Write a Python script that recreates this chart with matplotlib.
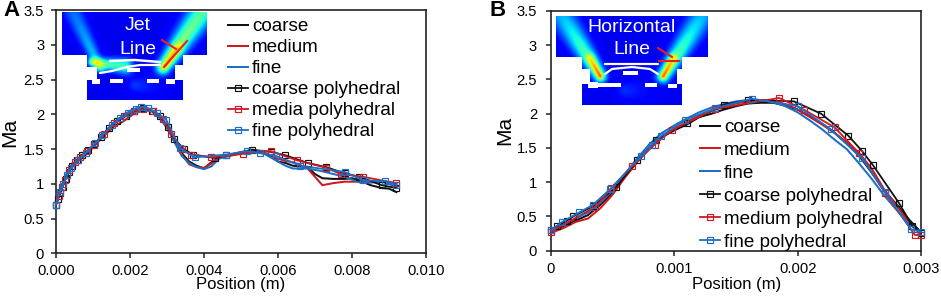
import numpy as np
import matplotlib
matplotlib.use("Agg")
import matplotlib.pyplot as plt
from matplotlib.patches import Polygon, Rectangle

plt.rcParams['font.family'] = ['Liberation Sans', 'DejaVu Sans']

# ---------- Panel A data ----------
a_x = [0, .0001, .0002, .0003, .0004, .0006, .0008, .001, .0012, .0014, .0016, .0018, .002, .0022, .0024, .0026, .0028, .003, .0032, .0034, .0036, .0038, .004, .0042, .0044, .0047, .005, .0053, .0056, .0058, .006, .0062, .0064, .0066, .0068, .007, .0072, .0075, .0078, .008, .0082, .0085, .0088, .009, .0092]
a_coarse = [.7, .87, 1.0, 1.12, 1.22, 1.33, 1.42, 1.53, 1.65, 1.78, 1.88, 1.95, 2.01, 2.06, 2.08, 2.04, 1.95, 1.82, 1.63, 1.44, 1.32, 1.26, 1.22, 1.31, 1.38, 1.41, 1.44, 1.49, 1.45, 1.4, 1.32, 1.3, 1.26, 1.25, 1.24, 1.14, 1.08, 1.07, 1.07, 1.08, 1.05, .98, .94, .93, .88]
a_medium = [.7, .88, 1.03, 1.15, 1.25, 1.35, 1.43, 1.52, 1.64, 1.74, 1.84, 1.89, 1.97, 2.04, 2.08, 2.05, 1.98, 1.84, 1.66, 1.42, 1.28, 1.24, 1.23, 1.29, 1.38, 1.4, 1.44, 1.47, 1.44, 1.4, 1.36, 1.33, 1.31, 1.27, 1.22, 1.1, .98, 1.01, 1.03, 1.03, 1.03, 1.02, 1.03, 1.02, 1.0]
a_fine = [.72, .9, 1.04, 1.16, 1.26, 1.36, 1.44, 1.54, 1.66, 1.79, 1.9, 1.98, 2.05, 2.09, 2.1, 2.05, 1.95, 1.8, 1.6, 1.4, 1.3, 1.24, 1.21, 1.25, 1.36, 1.41, 1.45, 1.48, 1.44, 1.38, 1.32, 1.26, 1.22, 1.22, 1.22, 1.2, 1.18, 1.14, 1.1, 1.06, 1.02, 1.02, 1.03, 1.0, .95]
a_cp_x = [0, .00006, .00012, .00018, .00026, .00034, .00044, .00056, .0007, .00086, .00104, .00122, .00142, .00164, .00188, .00212, .00236, .0026, .00282, .00302, .0032, .00345, .0037, .0043, .0046, .0053, .0058, .0062, .0068, .0073, .0078, .0082, .0088, .0092]
a_cp = [.7, .78, .87, .96, 1.07, 1.17, 1.26, 1.34, 1.41, 1.48, 1.57, 1.68, 1.8, 1.9, 1.98, 2.05, 2.09, 2.05, 1.97, 1.82, 1.65, 1.5, 1.42, 1.37, 1.41, 1.49, 1.46, 1.41, 1.3, 1.24, 1.15, 1.1, .98, .94]
a_mp_x = [0, .00008, .00016, .00024, .00036, .0005, .00066, .00084, .00102, .0013, .00158, .00184, .0021, .00235, .00262, .00288, .00312, .0034, .00365, .0042, .00505, .0058, .0065, .0073, .0077, .0083, .0092]
a_mp = [.7, .83, .95, 1.05, 1.2, 1.31, 1.39, 1.47, 1.56, 1.72, 1.88, 1.97, 2.05, 2.07, 2.05, 1.93, 1.72, 1.5, 1.42, 1.38, 1.43, 1.47, 1.34, 1.23, 1.14, 1.1, 1.01]
a_fp_x = [0, .0001, .0002, .0003, .0004, .0006, .0008, .00105, .00125, .00152, .00172, .00195, .00215, .0023, .00248, .00272, .00298, .00335, .00375, .0046, .00515, .0055, .00595, .0066, .0078, .0083, .0089, .0092]
a_fp = [.7, .88, 1.0, 1.13, 1.22, 1.34, 1.44, 1.58, 1.7, 1.85, 1.94, 2.02, 2.08, 2.1, 2.09, 2.02, 1.92, 1.51, 1.38, 1.42, 1.47, 1.44, 1.4, 1.26, 1.17, 1.05, 1.04, .98]

# ---------- Panel B data ----------
b_x = [0, .0001, .0002, .0003, .0004, .0005, .0006, .0007, .0008, .0009, .001, .0011, .0012, .0013, .0014, .0015, .0016, .0017, .0018, .0019, .002, .0021, .0022, .0023, .0024, .0025, .0026, .0027, .0028, .0029, .003]
b_coarse = [.28, .36, .44, .52, .67, .85, 1.08, 1.3, 1.5, 1.66, 1.76, 1.84, 1.95, 2.0, 2.06, 2.11, 2.15, 2.16, 2.16, 2.12, 2.06, 1.96, 1.85, 1.72, 1.56, 1.38, 1.14, .88, .68, .46, .27]
b_medium = [.26, .33, .42, .47, .62, .82, 1.07, 1.3, 1.5, 1.66, 1.78, 1.88, 1.97, 2.04, 2.1, 2.15, 2.18, 2.2, 2.19, 2.14, 2.06, 1.95, 1.84, 1.72, 1.58, 1.42, 1.2, .9, .66, .42, .24]
b_fine = [.3, .38, .47, .56, .7, .88, 1.12, 1.35, 1.56, 1.72, 1.83, 1.93, 2.02, 2.09, 2.14, 2.18, 2.2, 2.2, 2.17, 2.11, 2.02, 1.9, 1.77, 1.62, 1.48, 1.27, 1.05, .81, .6, .39, .27]
b_cp_x = [0, .00005, .00013, .00018, .00034, .00053, .0007, .00085, .0011, .0014, .0016, .00197, .00219, .00241, .00252, .00261, .00282, .00293, .003]
b_cp = [.3, .36, .44, .5, .65, .93, 1.32, 1.61, 1.86, 2.13, 2.2, 2.18, 2.0, 1.68, 1.46, 1.25, .7, .36, .26]
b_mp_x = [0, .00036, .00049, .00066, .00084, .00098, .00133, .00185, .00205, .0023, .0025, .00271, .00295, .003]
b_mp = [.28, .64, .91, 1.24, 1.55, 1.76, 2.07, 2.23, 2.06, 1.8, 1.42, .84, .23, .23]
b_fp_x = [0, .00009, .00023, .00034, .00048, .00073, .00082, .00089, .00109, .00133, .00163, .002, .00227, .00252, .00271, .00292, .003]
b_fp = [.3, .42, .56, .67, .9, 1.38, 1.55, 1.67, 1.91, 2.08, 2.22, 2.11, 1.77, 1.35, .86, .31, .28]

a_labels = ["coarse", "medium", "fine", "coarse polyhedral", "media polyhedral", "fine polyhedral"]
b_labels = ["coarse", "medium", "fine", "coarse polyhedral", "medium polyhedral", "fine polyhedral"]
y_ticks = [0, .5, 1, 1.5, 2, 2.5, 3, 3.5]
y_ticklabels = ["0", "0.5", "1", "1.5", "2", "2.5", "3", "3.5"]
a_xticks = [0, .002, .004, .006, .008, .01]
a_xticklabels = ["0.000", "0.002", "0.004", "0.006", "0.008", "0.010"]
b_xticks = [0, .001, .002, .003]
b_xticklabels = ["0", "0.001", "0.002", "0.003"]

BLACK, RED, BLUE = "#111111", "#d2171f", "#1c6fc4"
W, H = 941, 296
fig = plt.figure(figsize=(W / 100, H / 100), dpi=100)

def px_axes(l, t, r, b):
    return fig.add_axes([l / W, 1 - b / H, (r - l) / W, (b - t) / H])

def panel(ax, xlim, xt, xtl, smooth, poly, labels, pad_y, leg_xy, spacing):
    colors = [BLACK, RED, BLUE]
    handles = []
    xs, ys = smooth
    for y, c, lab in zip(ys, colors, labels[:3]):
        handles += ax.plot(xs, y, color=c, lw=1.45, label=lab, zorder=3)
    for (px, py), c, lab in zip(poly, colors, labels[3:]):
        handles += ax.plot(px, py, color=c, lw=1.3, marker="s", ms=4.4, mfc="none", mew=0.85,
                           label=lab, zorder=4, clip_on=False)
    ax.set_xlim(*xlim)
    ax.set_ylim(0, 3.5)
    ax.set_xticks(xt)
    ax.set_xticklabels(xtl)
    ax.set_yticks(y_ticks)
    ax.set_yticklabels(y_ticklabels)
    ax.tick_params(axis="x", labelsize=10.6, length=3.5, width=1.1, pad=4.5, color="#222222")
    ax.tick_params(axis="y", labelsize=10.6, length=3.5, width=1.1, pad=pad_y, color="#222222")
    for s in ax.spines.values():
        s.set_linewidth(1.2)
        s.set_color("#222222")
    ax.patch.set_alpha(0)
    ax.legend(handles=handles, loc="upper left",
              bbox_to_anchor=(leg_xy[0] / W, 1 - leg_xy[1] / H), bbox_transform=fig.transFigure,
              frameon=False, fontsize=13.6, handlelength=1.06, handletextpad=0.2, borderpad=0,
              borderaxespad=0, labelspacing=spacing)

axA = px_axes(56, 10, 426, 253.3)
axB = px_axes(551, 11, 921, 250.7)

panel(axA, (0, .01), a_xticks, a_xticklabels, (a_x, [a_coarse, a_medium, a_fine]),
      [(a_cp_x, a_cp), (a_mp_x, a_mp), (a_fp_x, a_fp)], a_labels, 5, (228, 18), 0.2)
panel(axB, (0, .003), b_xticks, b_xticklabels, (b_x, [b_coarse, b_medium, b_fine]),
      [(b_cp_x, b_cp), (b_mp_x, b_mp), (b_fp_x, b_fp)], b_labels, 6.5, (700, 119), 0.3)

fig.text(241 / W, 1 - 284 / H, "Position (m)", fontsize=12, ha="center", va="center")
fig.text(737 / W, 1 - 285 / H, "Position (m)", fontsize=12, ha="center", va="center")
fig.text(10 / W, 1 - 132 / H, "Ma", fontsize=15, rotation=90, ha="center", va="center")
fig.text(505 / W, 1 - 130 / H, "Ma", fontsize=15, rotation=90, ha="center", va="center")
fig.text(11 / W, 1 - 11 / H, "A", fontsize=16, fontweight="bold", ha="center", va="center")
fig.text(498 / W, 1 - 11 / H, "B", fontsize=16, fontweight="bold", ha="center", va="center")

# ---------- CFD-contour insets, drawn in pixel coordinates ----------
ov = fig.add_axes([0, 0, 1, 1], zorder=1)
ov.patch.set_alpha(0)
ov.axis("off")

def streak(X, Y, p0, p1, width, amp, fade=0.45):
    p0, p1 = np.array(p0, float), np.array(p1, float)
    d = p1 - p0
    t = ((X - p0[0]) * d[0] + (Y - p0[1]) * d[1]) / (d @ d)
    tc = np.clip(t, 0, 1)
    dist = np.hypot(X - p0[0] - tc * d[0], Y - p0[1] - tc * d[1])
    w = width * (0.7 + 0.6 * tc)
    return amp * (1 - fade * tc) * np.exp(-(dist / w) ** 2)

def inset(x0, x1, ytop, ystep, nx0, nx1, ybot, streaks, lines, rects):
    xs = np.arange(x0, x1, 0.5)
    ys = np.arange(ytop, ybot, 0.5)
    X, Y = np.meshgrid(xs, ys)
    F = 0.1 + sum(streak(X, Y, *s) for s in streaks)
    im = ov.imshow(np.clip(F, 0, 1), cmap="jet", vmin=0, vmax=1, extent=(x0, x1, ybot, ytop),
                   interpolation="bilinear", aspect="auto", zorder=1)
    outline = Polygon([(x0, ytop), (x1, ytop), (x1, ystep), (nx1, ystep), (nx1, ybot), (nx0, ybot),
                       (nx0, ystep), (x0, ystep)], closed=True, fc="none", ec="none")
    ov.add_patch(outline)
    im.set_clip_path(outline)
    for pts, lw in lines:
        ov.plot(*zip(*pts), color="white", lw=lw, zorder=2, solid_capstyle="round")
    for (a, b, c, d) in rects:
        ov.add_patch(Rectangle((a, b), c - a, d - b, fc="white", ec="none", zorder=2))

inset(62, 207, 12, 55, 87, 183, 100,
      [((100, 68), (73, 12), 7, 0.24), ((163, 67), (202, 12), 10, 0.46, 0.25), ((165, 66), (178, 48), 4, 0.22, 0.2),
       ((92, 62), (125, 66), 6, 0.36, 0.1), ((135, 85), (150, 85), 10, 0.08)],
      [([(100, 73), (112, 71), (127, 67), (140, 65), (160, 65)], 1.6),
       ([(110, 61), (135, 60), (160, 62)], 1.8)],
      [(110, 79, 123, 83), (147, 79, 159, 83), (127, 68, 140, 72),
       (87, 67, 97, 80), (92, 79, 100, 84), (175, 65, 183, 80), (166, 79, 175, 84)])

inset(556, 708, 16, 57, 582, 682, 105,
      [((600, 76), (562, 16), 9.5, 0.42, 0.5), ((600, 76), (590, 58), 3.5, 0.3, 0.3),
       ((663, 76), (702, 16), 9.5, 0.42, 0.5), ((663, 76), (673, 58), 3.5, 0.3, 0.3),
       ((625, 90), (640, 90), 12, 0.07)],
      [([(605, 74), (612, 69), (632, 67), (650, 69), (658, 74)], 1.6),
       ([(605, 64), (658, 64)], 1.6)],
      [(597, 83, 621, 87), (645, 83, 657, 87), (623, 71, 638, 75),
       (582, 69, 590, 84), (588, 82, 598, 88), (677, 69, 682, 84), (668, 84, 677, 88)])

ov.set_xlim(0, W)
ov.set_ylim(H, 0)

# Sample-line markers and inset captions
for seg in (((164, 67), (187, 41)), ((162, 40), (176, 49)),
            ((659, 61), (679, 61)), ((658, 48), (672, 57))):
    ov.plot(*zip(*seg), color="#ee1c25", lw=1.5, zorder=3)
ov.text(138, 26, "Jet", color="white", fontsize=14, ha="center", va="center", zorder=4)
ov.text(138, 49, "Line", color="white", fontsize=14, ha="center", va="center", zorder=4)
ov.text(632, 27, "Horizontal", color="white", fontsize=14, ha="center", va="center", zorder=4)
ov.text(632, 50, "Line", color="white", fontsize=14, ha="center", va="center", zorder=4)

fig.savefig("out.png", dpi=100)
